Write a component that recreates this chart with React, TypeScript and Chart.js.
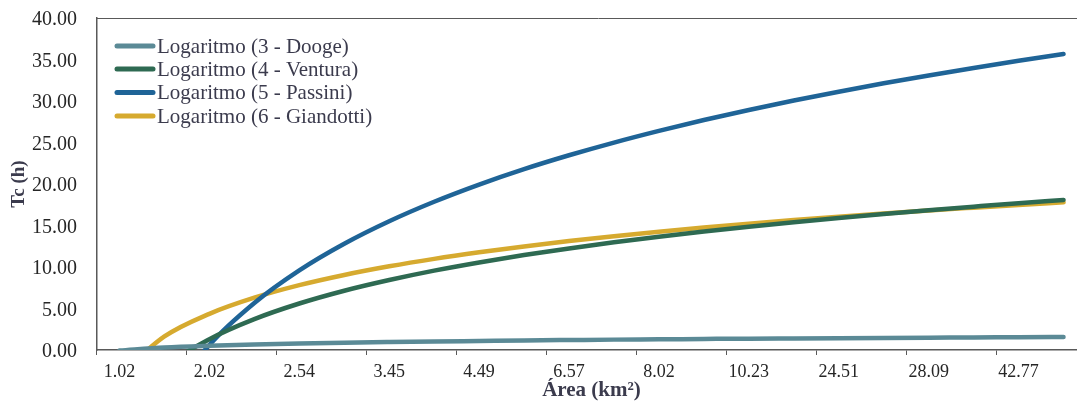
import React, { useEffect, useRef } from "react";
import { Chart, registerables } from "chart.js";

Chart.register(...registerables);

// Category areas (km²); every other label is shown on the axis
const areas = [
  "1.02", "1.53", "2.02", "2.27", "2.54", "3.01", "3.45", "3.92", "4.49", "5.38", "6.57",
  "7.21", "8.02", "9.14", "10.23", "16.80", "24.51", "26.12", "28.09", "35.44", "42.77", "51.30",
];

// Logarithmic trend values (negative parts fall below the axis)
const dooge = [
  -0.07, 0.3, 0.51, 0.66, 0.78, 0.88, 0.96, 1.03, 1.09, 1.15, 1.2,
  1.25, 1.29, 1.33, 1.37, 1.4, 1.43, 1.46, 1.49, 1.52, 1.54, 1.57,
];
const ventura = [
  -7.95, -2.11, 1.3, 3.72, 5.6, 7.14, 8.43, 9.56, 10.55, 11.44, 12.24,
  12.97, 13.65, 14.27, 14.85, 15.4, 15.91, 16.39, 16.84, 17.27, 17.69, 18.08,
];
const passini = [
  -18.74, -6.54, 0.6, 5.66, 9.59, 12.8, 15.51, 17.86, 19.93, 21.79, 23.46,
  24.99, 26.4, 27.71, 28.92, 30.06, 31.12, 32.13, 33.08, 33.98, 34.84, 35.66,
];
const giandotti = [
  -3.04, 1.63, 4.36, 6.3, 7.81, 9.04, 10.08, 10.98, 11.77, 12.48, 13.12,
  13.71, 14.25, 14.75, 15.21, 15.65, 16.06, 16.44, 16.81, 17.15, 17.48, 17.79,
];

const seriesNames = [
  "Logaritmo (3 - Dooge)",
  "Logaritmo (4 - Ventura)",
  "Logaritmo (5 - Passini)",
  "Logaritmo (6 - Giandotti)",
];
const seriesColors = ["#5b8a96", "#2e6a52", "#1f6497", "#d6aa2f"];

const FONT = "'Liberation Serif', 'Times New Roman', serif";
const AXIS_COLOR = "#595959";
const TEXT_COLOR = "#262626";
const TITLE_COLOR = "#3b3b4d";

const frameAndLegend = {
  id: "frameAndLegend",
  afterDatasetsDraw(chart: any) {
    const { ctx, chartArea } = chart;
    ctx.save();
    // top border of plot area
    ctx.strokeStyle = AXIS_COLOR;
    ctx.lineWidth = 1;
    ctx.beginPath();
    ctx.moveTo(chartArea.left, chartArea.top + 0.5);
    ctx.lineTo(chart.width, chartArea.top + 0.5);
    ctx.stroke();

    // legend inside plot
    const x0 = 117;
    const x1 = 153;
    const tx = 157;
    const rows = [46, 69, 92.5, 116];
    chart.data.datasets.forEach((ds: any, i: number) => {
      const y = rows[i];
      ctx.strokeStyle = ds.borderColor;
      ctx.lineWidth = 5;
      ctx.lineCap = "round";
      ctx.beginPath();
      ctx.moveTo(x0, y);
      ctx.lineTo(x1, y);
      ctx.stroke();
      ctx.fillStyle = TITLE_COLOR;
      ctx.font = `21px ${FONT}`;
      ctx.textAlign = "left";
      ctx.textBaseline = "middle";
      ctx.fillText(ds.label, tx, y + 1);
    });
    ctx.restore();
  },
};

export default function App() {
  const ref = useRef<HTMLCanvasElement | null>(null);

  useEffect(() => {
    if (!ref.current) return;
    const data = [dooge, ventura, passini, giandotti];
    const chart = new Chart(ref.current, {
      type: "line",
      data: {
        labels: areas,
        datasets: data.map((d, i) => ({
          label: seriesNames[i],
          data: d,
          borderColor: seriesColors[i],
          backgroundColor: seriesColors[i],
          borderWidth: 4.5,
          pointRadius: 0,
          pointHoverRadius: 0,
          cubicInterpolationMode: "monotone" as const,
          borderCapStyle: "round" as const,
          fill: false,
          clip: 0,
        })),
      },
      options: {
        responsive: false,
        animation: false,
        events: [],
        layout: { padding: { top: 18, right: 14, bottom: 0, left: 0 } },
        plugins: {
          legend: { display: false },
          tooltip: { enabled: false },
        },
        scales: {
          x: {
            type: "category",
            offset: true,
            grid: {
              offset: true,
              drawOnChartArea: false,
              drawTicks: true,
              tickLength: 5,
              lineWidth: 1,
              color: (c: any) => (c.index % 2 === 0 ? AXIS_COLOR : "rgba(0,0,0,0)"),
            },
            border: { display: true, color: AXIS_COLOR, width: 1.5 },
            ticks: {
              autoSkip: false,
              maxRotation: 0,
              minRotation: 0,
              padding: 6,
              color: TEXT_COLOR,
              font: { family: FONT, size: 18 },
              callback: function (this: any, v: any, i: number) {
                return i % 2 === 0 ? this.getLabelForValue(v) : "";
              },
            },
            title: {
              display: true,
              text: "Área (km²)",
              color: TITLE_COLOR,
              font: { family: FONT, size: 21, weight: "bold" },
              padding: { top: 0, bottom: 0 },
            },
            afterFit: (s: any) => {
              s.height = 53;
              s.paddingLeft = 0;
              s.paddingRight = 0;
            },
          },
          y: {
            min: 0,
            max: 40,
            grid: { display: false, drawTicks: false },
            border: { display: true, color: AXIS_COLOR, width: 1.5 },
            ticks: {
              stepSize: 5,
              padding: 20,
              labelOffset: 2,
              color: TEXT_COLOR,
              font: { family: FONT, size: 20 },
              callback: (v: any) => Number(v).toFixed(2),
            },
            title: {
              display: true,
              text: "Tc (h)",
              color: TITLE_COLOR,
              font: { family: FONT, size: 19, weight: "bold" },
              padding: { top: 8, bottom: 0 },
            },
            afterFit: (s: any) => {
              s.width = 97;
              s.paddingTop = 0;
              s.paddingBottom = 0;
            },
          },
        },
      },
      plugins: [frameAndLegend],
    });
    return () => chart.destroy();
  }, []);

  return (
    <div
      style={{
        position: "absolute",
        left: 0,
        top: 0,
        width: 1077,
        height: 403,
        overflow: "hidden",
        background: "#ffffff",
      }}
    >
      <canvas ref={ref} width={1100} height={403} style={{ display: "block" }} />
    </div>
  );
}
